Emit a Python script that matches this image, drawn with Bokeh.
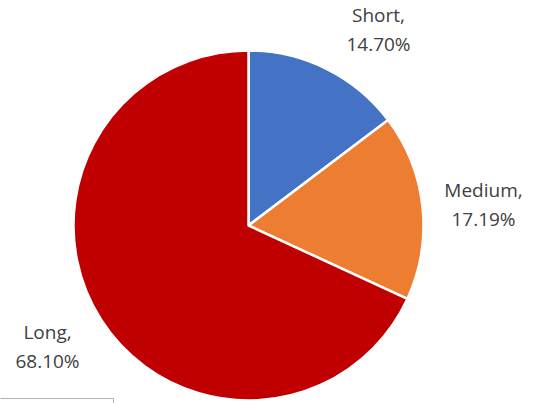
import math
from bokeh.plotting import figure
from bokeh.models import ColumnDataSource, Range1d, BoxAnnotation
from bokeh.core.properties import value
from bokeh.embed import file_html
from bokeh.resources import INLINE

# Data
categories = ["Short", "Medium", "Long"]
shares = [14.70, 17.19, 68.10]
colors = ["#4472C4", "#ED7D31", "#C00000"]

# Layout (figure pixels == data units)
W, H = 541, 403
cx, cy = 248, 178
R = 175
# label offsets from pie centre (style/position only)
label_dx = [130, 235, -201]
label_dy = [196, 21, -121]

total = sum(shares)
starts, ends = [], []
acc = 0.0
for s in shares:
    a0 = math.pi / 2 - 2 * math.pi * acc / total
    acc += s
    a1 = math.pi / 2 - 2 * math.pi * acc / total
    starts.append(a1)
    ends.append(a0)

src = ColumnDataSource(dict(cat=categories, start=starts, end=ends, color=colors))

p = figure(width=W, height=H, output_backend="svg", toolbar_location=None,
           x_range=Range1d(0, W), y_range=Range1d(0, H), min_border=0,
           outline_line_color=None, background_fill_color="white")
p.axis.visible = False
p.grid.visible = False

p.wedge(x=cx, y=cy, radius=R, start_angle="start", end_angle="end",
        fill_color="color", line_color="white", line_width=2.5, source=src)

name_txt = [c + "," for c in categories]
pct_txt = ["%.2f%%" % s for s in shares]
lx = [cx + d for d in label_dx]
ly = [cy + d for d in label_dy]

lab = ColumnDataSource(dict(x=lx, y=ly, name=name_txt, pct=pct_txt))
common = dict(text_font=value("Open Sans"), text_font_size="19px",
              text_color="#404040", text_align="center", text_baseline="middle")
p.text(x="x", y="y", text="name", y_offset=-15, source=lab, **common)
p.text(x="x", y="y", text="pct", y_offset=14, source=lab, **common)

# partial frame seen at bottom-left of the reference
p.add_layout(BoxAnnotation(left=-10, right=113, bottom=-20, top=5,
                           fill_alpha=0, line_color="black", line_width=1))

open("out.html", "w").write(file_html(p, INLINE))
